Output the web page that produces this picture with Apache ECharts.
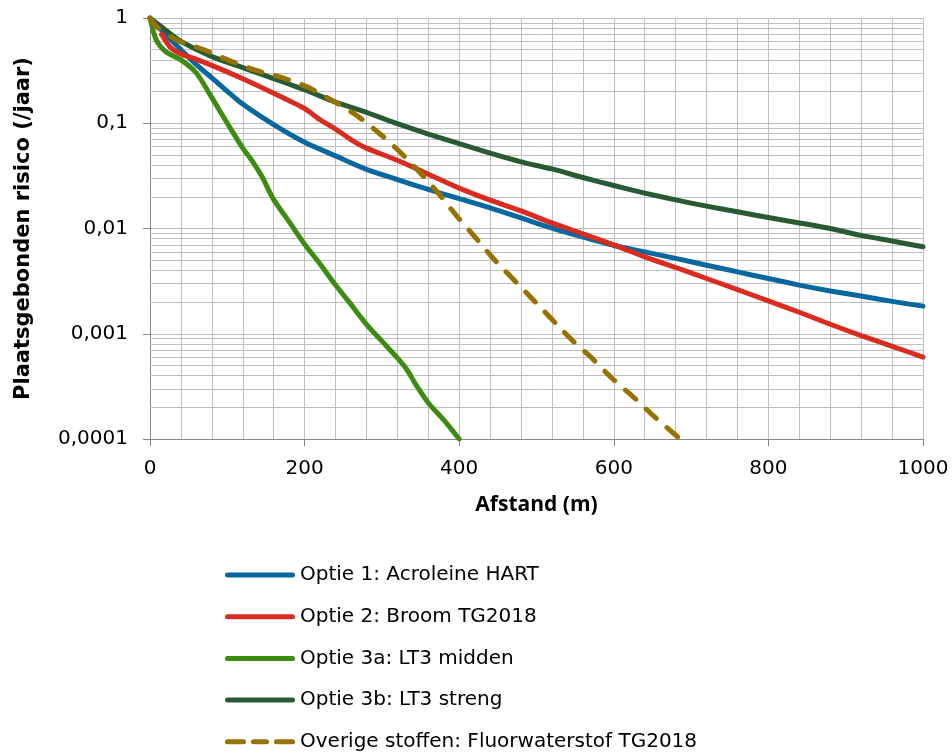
<!DOCTYPE html>
<html>
<head>
<meta charset="utf-8">
<script src="https://cdn.jsdelivr.net/npm/echarts@6/dist/echarts.min.js"></script>
<style>
html,body{margin:0;padding:0;background:#ffffff;}
#chart{width:952px;height:754px;}
</style>
</head>
<body>
<div id="chart"></div>
<script>
// ---- data ----
const seriesNames = [
  'Optie 1: Acroleine HART',
  'Optie 2: Broom TG2018',
  'Optie 3a: LT3 midden',
  'Optie 3b: LT3 streng',
  'Overige stoffen: Fluorwaterstof TG2018'
];

const opt1X = [0, 20, 40, 60, 80, 120, 160, 200, 240, 280, 320, 360, 400, 440, 480, 520, 560, 600, 640, 680, 720, 760, 800, 840, 880, 920, 960, 1000];
const opt1Y = [1, 0.7, 0.5, 0.36, 0.27, 0.152, 0.097, 0.066, 0.049, 0.0365, 0.0292, 0.0235, 0.0192, 0.0157, 0.0126, 0.0101, 0.0083, 0.0069, 0.006, 0.0052, 0.00448, 0.00387, 0.00335, 0.0029, 0.00255, 0.00228, 0.00203, 0.00183];

const opt2X = [15, 26, 40, 60, 80, 120, 160, 200, 220, 240, 260, 280, 320, 360, 400, 440, 480, 520, 560, 600, 640, 680, 720, 760, 800, 840, 880, 920, 960, 1000];
const opt2Y = [0.7, 0.53, 0.455, 0.405, 0.355, 0.265, 0.193, 0.138, 0.108, 0.088, 0.07, 0.058, 0.0445, 0.0328, 0.0242, 0.0186, 0.0147, 0.0113, 0.0089, 0.007, 0.00537, 0.00426, 0.00335, 0.00263, 0.00205, 0.0016, 0.00123, 0.00096, 0.00076, 0.0006];

const opt3aX = [0, 8, 20, 40, 60, 80, 100, 120, 133, 145, 160, 180, 200, 220, 240, 260, 280, 300, 320, 332, 345, 360, 380, 400];
const opt3aY = [1, 0.62, 0.48, 0.4, 0.3, 0.175, 0.1, 0.058, 0.043, 0.031, 0.0188, 0.0116, 0.0071, 0.0046, 0.0029, 0.0019, 0.00123, 0.00085, 0.00059, 0.00046, 0.00032, 0.00022, 0.000152, 0.0001];

const opt3bX = [0, 20, 40, 80, 120, 160, 200, 240, 280, 320, 360, 400, 440, 480, 520, 560, 600, 640, 680, 720, 760, 800, 840, 880, 920, 960, 1000];
const opt3bY = [1, 0.77, 0.6, 0.43, 0.338, 0.266, 0.208, 0.159, 0.127, 0.099, 0.079, 0.064, 0.052, 0.043, 0.0368, 0.0305, 0.0256, 0.0217, 0.0187, 0.0163, 0.0144, 0.0127, 0.0113, 0.01, 0.0086, 0.0076, 0.0067];

const overigX = [0, 10, 35, 69, 102, 136, 172, 206, 240, 270, 298, 325, 350, 374, 397, 422, 445, 495, 546, 573, 598, 626, 652, 686];
const overigY = [1, 0.81, 0.614, 0.502, 0.396, 0.319, 0.27, 0.217, 0.158, 0.115, 0.0786, 0.0519, 0.0335, 0.0212, 0.0131, 0.00804, 0.0051, 0.00213, 0.00087, 0.000574, 0.000376, 0.000248, 0.000164, 0.0001];

const yTickLabels = ['0,0001', '0,001', '0,01', '0,1', '1'];
const xAxisTitle = 'Afstand (m)';
const yAxisTitle = 'Plaatsgebonden risico (/jaar)';

// ---- styling ----
const colors = ['#07689f', '#d92b20', '#3e8b12', '#285b34', '#977200'];
const gridColor = '#bfbfbf';
const axisColor = '#868686';
const solidIcon = 'path://M2.5,0H67.5A2.5,2.5,0,0,1,67.5,5H2.5A2.5,2.5,0,0,1,2.5,0Z';
const dashIcon = 'path://M2.5,0H18.5A2.5,2.5,0,0,1,18.5,5H2.5A2.5,2.5,0,0,1,2.5,0Z M28.5,0H41.5A2.5,2.5,0,0,1,41.5,5H28.5A2.5,2.5,0,0,1,28.5,0Z M51.5,0H67.5A2.5,2.5,0,0,1,67.5,5H51.5A2.5,2.5,0,0,1,51.5,0Z';

// minor (2..9) horizontal gridlines of the log axis
const minorY = [];
for (let e = -4; e < 0; e++) {
  for (let k = 2; k <= 9; k++) minorY.push(+(k * Math.pow(10, e)).toPrecision(6));
}

function pairs(xs, ys) { return xs.map((x, i) => [x, ys[i]]); }

const datasets = [
  pairs(opt1X, opt1Y),
  pairs(opt2X, opt2Y),
  pairs(opt3aX, opt3aY),
  pairs(opt3bX, opt3bY),
  pairs(overigX, overigY)
];

const series = datasets.map((d, i) => {
  const s = {
    name: seriesNames[i],
    type: 'line',
    data: d,
    symbol: 'none',
    showSymbol: false,
    smooth: 0.25,
    z: 3,
    itemStyle: { color: colors[i] },
    lineStyle: {
      color: colors[i], width: 5, cap: 'round', join: 'round',
      type: i === 4 ? [14, 14] : 'solid'
    },
    emphasis: { disabled: true }
  };
  if (i === 0) {
    s.markLine = {
      silent: true,
      z: 1,
      precision: 6,
      symbol: ['none', 'none'],
      label: { show: false },
      emphasis: { disabled: true },
      animation: false,
      lineStyle: { color: gridColor, width: 1, type: 'solid' },
      data: minorY.map(v => ({ yAxis: v }))
    };
  }
  return s;
});

const chart = echarts.init(document.getElementById('chart'), null, { renderer: 'canvas' });
chart.setOption({
  animation: false,
  backgroundColor: '#ffffff',
  textStyle: { fontFamily: 'DejaVu Sans' },
  grid: { left: 150, right: 29, top: 18, bottom: 315, containLabel: false },
  legend: {
    data: seriesNames.map((n, i) => ({ name: n, icon: i === 4 ? dashIcon : solidIcon })),
    orient: 'vertical',
    left: 225,
    top: 565,
    padding: 0,
    itemWidth: 70,
    itemHeight: 5,
    itemGap: 21.7,
    selectedMode: false,
    textStyle: { fontFamily: 'DejaVu Sans', fontSize: 20, color: '#000000' }
  },
  xAxis: {
    type: 'value',
    min: 0,
    max: 1000,
    interval: 200,
    name: xAxisTitle,
    nameLocation: 'middle',
    nameGap: 56,
    nameTextStyle: { fontFamily: 'Open Sans', fontWeight: 'bold', fontSize: 21, color: '#000000' },
    axisLine: { show: true, onZero: false, lineStyle: { color: axisColor, width: 1 } },
    axisTick: { show: true, length: 7, lineStyle: { color: axisColor } },
    axisLabel: {
      fontSize: 20, color: '#000000', margin: 20, fontFamily: 'DejaVu Sans',
      formatter: function (v) { return String(v); }
    },
    splitLine: { show: true, lineStyle: { color: gridColor, width: 1 } },
    minorTick: { show: false, splitNumber: 5 },
    minorSplitLine: { show: true, lineStyle: { color: gridColor, width: 1 } }
  },
  yAxis: {
    type: 'log',
    logBase: 10,
    min: 0.0001,
    max: 1,
    name: yAxisTitle,
    nameLocation: 'middle',
    nameRotate: 90,
    nameGap: 116,
    nameTextStyle: { fontFamily: 'DejaVu Sans', fontWeight: 'bold', fontSize: 21, color: '#000000' },
    axisLine: { show: true, lineStyle: { color: axisColor, width: 1 } },
    axisTick: { show: true, length: 7, lineStyle: { color: axisColor } },
    axisLabel: {
      fontSize: 20, color: '#000000', margin: 22, fontFamily: 'DejaVu Sans',
      formatter: function (v) {
        const e = Math.round(Math.log10(v));
        const lbl = yTickLabels[e + 4];
        return lbl === undefined ? '' : lbl;
      }
    },
    splitLine: { show: true, lineStyle: { color: gridColor, width: 1 } }
  },
  series: series
});
</script>
</body>
</html>
